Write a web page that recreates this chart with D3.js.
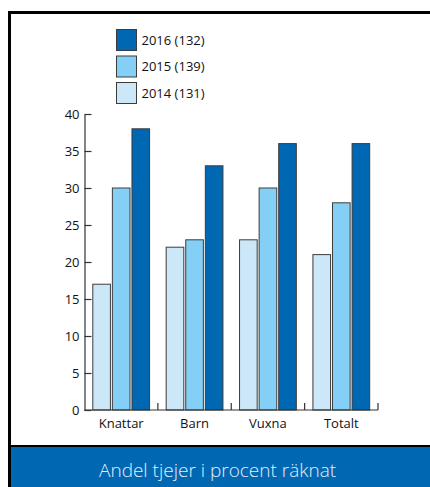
<!DOCTYPE html>
<html>
<head>
<meta charset="utf-8">
<script src="https://cdn.jsdelivr.net/npm/d3@7"></script>
<style>
  body { margin: 0; background: #fff; }
  svg { display: block; font-family: "Open Sans", sans-serif; }
</style>
</head>
<body>
<svg id="chart" width="430" height="487"></svg>
<script>
// data
var categories = ["Knattar", "Barn", "Vuxna", "Totalt"];
var years = ["2014", "2015", "2016"];
var yearLabels = ["2014 (131)", "2015 (139)", "2016 (132)"];
var values2014 = [17, 22, 23, 21];
var values2015 = [30, 23, 30, 28];
var values2016 = [38, 33, 36, 36];
var yTicks = [0, 5, 10, 15, 20, 25, 30, 35, 40];
var caption = "Andel tjejer i procent räknat";

var colors = {"2014": "#cbe7f8", "2015": "#84cff5", "2016": "#0067b3"};
var series = {"2014": values2014, "2015": values2015, "2016": values2016};

var svg = d3.select("#chart");

// frame
svg.append("rect").attr("x", 11).attr("y", 447).attr("width", 419).attr("height", 40)
    .attr("fill", "#0067b3");
svg.append("line").attr("x1", 9.5).attr("x2", 9.5).attr("y1", 11).attr("y2", 487)
    .attr("stroke", "#000").attr("stroke-width", 3);
svg.append("line").attr("x1", 8).attr("x2", 430).attr("y1", 12.5).attr("y2", 12.5)
    .attr("stroke", "#000").attr("stroke-width", 3);
svg.append("line").attr("x1", 8).attr("x2", 430).attr("y1", 446).attr("y2", 446)
    .attr("stroke", "#000").attr("stroke-width", 2);

svg.append("text").attr("x", 99).attr("y", 477)
    .attr("fill", "#e3eef8").attr("font-size", 19).attr("font-weight", 300)
    .text(caption);

// scales
var x = d3.scaleBand().domain(categories).range([84.5, 378]).padding(0);
var x1 = d3.scaleBand().domain(years).range([8.3, x.bandwidth() - 8.3]).paddingInner(0.1);
var y = d3.scaleLinear().domain([0, 40]).range([410, 114]);

var g = svg.append("g");

categories.forEach(function(cat, i) {
    years.forEach(function(yr) {
        var v = series[yr][i];
        g.append("rect")
            .attr("x", x(cat) + x1(yr))
            .attr("y", y(v))
            .attr("width", x1.bandwidth())
            .attr("height", y(0) - y(v))
            .attr("fill", colors[yr])
            .attr("stroke", "#3c3c3c")
            .attr("stroke-width", 1);
    });
});

// y axis
var yAxis = svg.append("g").attr("transform", "translate(84.5,0)")
    .call(d3.axisLeft(y).tickValues(yTicks).tickSizeInner(-7).tickSizeOuter(0).tickPadding(5));
yAxis.selectAll("text").attr("font-size", 13).attr("fill", "#111").attr("font-family", "Open Sans");
yAxis.selectAll("line, path").attr("stroke", "#333").attr("stroke-width", 1.2);

// x axis
var xAxis = svg.append("g").attr("transform", "translate(0,410)")
    .call(d3.axisBottom(x).tickSize(0).tickPadding(9));
xAxis.select(".domain").remove();
xAxis.selectAll("text").attr("font-size", 13).attr("fill", "#111").attr("font-family", "Open Sans");

svg.append("line").attr("x1", 84.5).attr("x2", 378).attr("y1", 410).attr("y2", 410)
    .attr("stroke", "#333").attr("stroke-width", 1.2);
categories.forEach(function(cat) {
    var bx = x(cat) + x.bandwidth();
    svg.append("line").attr("x1", bx).attr("x2", bx).attr("y1", 410).attr("y2", 403)
        .attr("stroke", "#333").attr("stroke-width", 1.2);
});

// legend, newest year on top
var legendYears = years.slice().reverse();
legendYears.forEach(function(yr, i) {
    var ly = 29.5 + i * 26.5;
    svg.append("rect").attr("x", 116.5).attr("y", ly).attr("width", 20).attr("height", 21)
        .attr("fill", colors[yr]).attr("stroke", "#3c3c3c").attr("stroke-width", 1);
    svg.append("text").attr("x", 141.5).attr("y", ly + 15)
        .attr("font-size", 13).attr("fill", "#111")
        .text(yearLabels[years.indexOf(yr)]);
});
</script>
</body>
</html>
